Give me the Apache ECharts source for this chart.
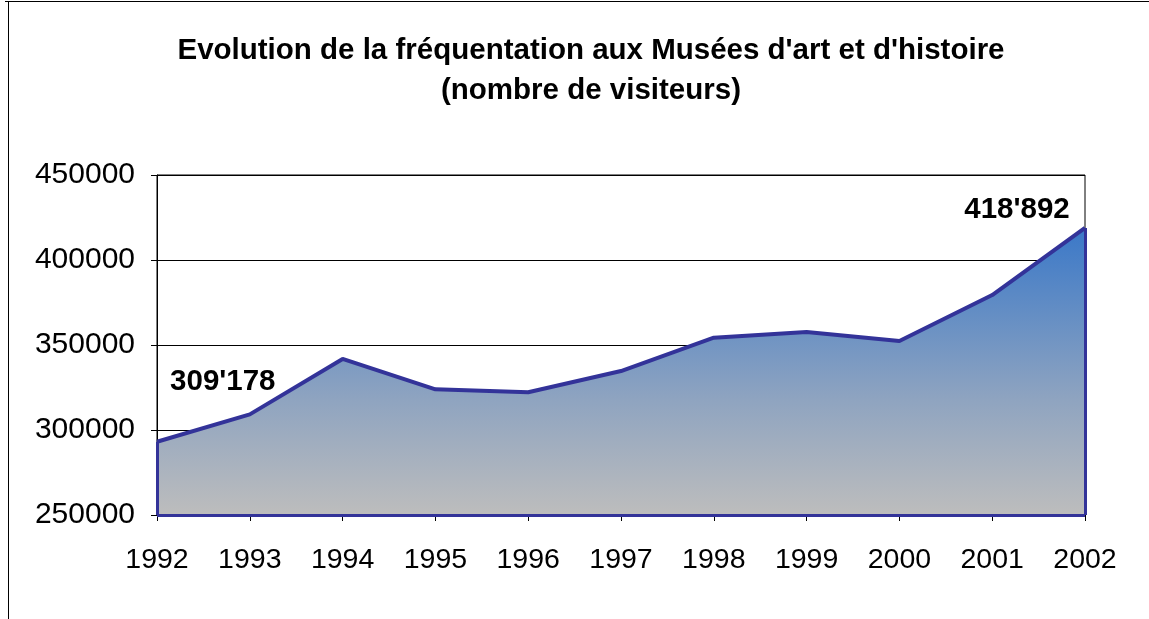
<!DOCTYPE html>
<html>
<head>
<meta charset="utf-8">
<script src="https://cdn.jsdelivr.net/npm/echarts@6/dist/echarts.min.js"></script>
<style>
  html, body { margin: 0; padding: 0; background: #fff; }
  #main { width: 1149px; height: 619px; }
</style>
</head>
<body>
<div id="main"></div>
<script>
// données
const years = ['1992', '1993', '1994', '1995', '1996', '1997', '1998', '1999', '2000', '2001', '2002']
const visiteurs = [293100, 309178, 341800, 323900, 322200, 334700, 354300, 357600, 352400, 379400, 418892]
const yTicks = [250000, 300000, 350000, 400000, 450000]
// points annotés et décalage de l'étiquette
const labelled = { '1993': [-27, -33], '2002': [-68, -18] }

const fmt = v => String(v).replace(/\B(?=(\d{3})+(?!\d))/g, "'")

const seriesData = visiteurs.map((v, i) => {
  const off = labelled[years[i]]
  if (!off) return v
  return {
    value: v,
    label: {
      show: true,
      position: 'inside',
      offset: off,
      formatter: p => fmt(p.value),
      fontFamily: 'Liberation Sans, Arial, sans-serif',
      fontWeight: 'bold',
      fontSize: 29.5,
      color: '#000'
    }
  }
})

const last = years.length - 1
const chart = echarts.init(document.getElementById('main'))
chart.setOption({
  animation: false,
  textStyle: { fontFamily: 'Liberation Sans, Arial, sans-serif' },
  title: {
    text: "Evolution de la fréquentation aux Musées d'art et d'histoire\n(nombre de visiteurs)",
    left: 586,
    top: 26,
    textAlign: 'center',
    textStyle: {
      fontFamily: 'Liberation Sans, Arial, sans-serif',
      fontWeight: 'bold',
      fontSize: 29.5,
      lineHeight: 40,
      color: '#000'
    }
  },
  graphic: [
    { type: 'line', shape: { x1: 5, y1: 1.5, x2: 1149, y2: 1.5 }, style: { stroke: '#000', lineWidth: 1 } },
    { type: 'line', shape: { x1: 8.5, y1: 1, x2: 8.5, y2: 619 }, style: { stroke: '#000', lineWidth: 1 } }
  ],
  grid: {
    left: 157,
    right: 64,
    top: 175,
    bottom: 104,
    show: true,
    borderColor: '#000',
    borderWidth: 1
  },
  xAxis: {
    type: 'category',
    data: years,
    boundaryGap: false,
    axisLine: { lineStyle: { color: '#000', width: 1 } },
    axisTick: { alignWithLabel: true, length: 6, lineStyle: { color: '#000' } },
    axisLabel: { margin: 31, fontSize: 28.5, color: '#000' },
    splitLine: { show: false }
  },
  yAxis: {
    type: 'value',
    min: yTicks[0],
    max: yTicks[yTicks.length - 1],
    interval: 50000,
    axisLine: { show: true, lineStyle: { color: '#000', width: 1 } },
    axisTick: { show: true, length: 6, lineStyle: { color: '#000' } },
    axisLabel: { margin: 22, fontSize: 30, color: '#000', formatter: v => String(v) },
    splitLine: { show: true, lineStyle: { color: '#000', width: 1 } }
  },
  series: [
    {
      type: 'line',
      data: seriesData,
      symbol: 'circle',
      symbolSize: 0,
      showSymbol: true,
      lineStyle: { color: '#333399', width: 4 },
      itemStyle: { color: '#333399' },
      areaStyle: {
        opacity: 1,
        color: new echarts.graphic.LinearGradient(0, 0, 0, 1, [
          { offset: 0, color: '#3a78c8' },
          { offset: 0.6, color: '#8fa4c0' },
          { offset: 1, color: '#bdbdbd' }
        ])
      },
      markLine: {
        silent: true,
        symbol: 'none',
        label: { show: false },
        lineStyle: { color: '#333399', type: 'solid', width: 3 },
        data: [
          [{ coord: [years[0], yTicks[0]] }, { coord: [years[0], visiteurs[0]] }],
          [{ coord: [years[last], yTicks[0]] }, { coord: [years[last], visiteurs[last]] }],
          [{ coord: [years[0], yTicks[0]] }, { coord: [years[last], yTicks[0]] }]
        ]
      }
    }
  ]
})
</script>
</body>
</html>
